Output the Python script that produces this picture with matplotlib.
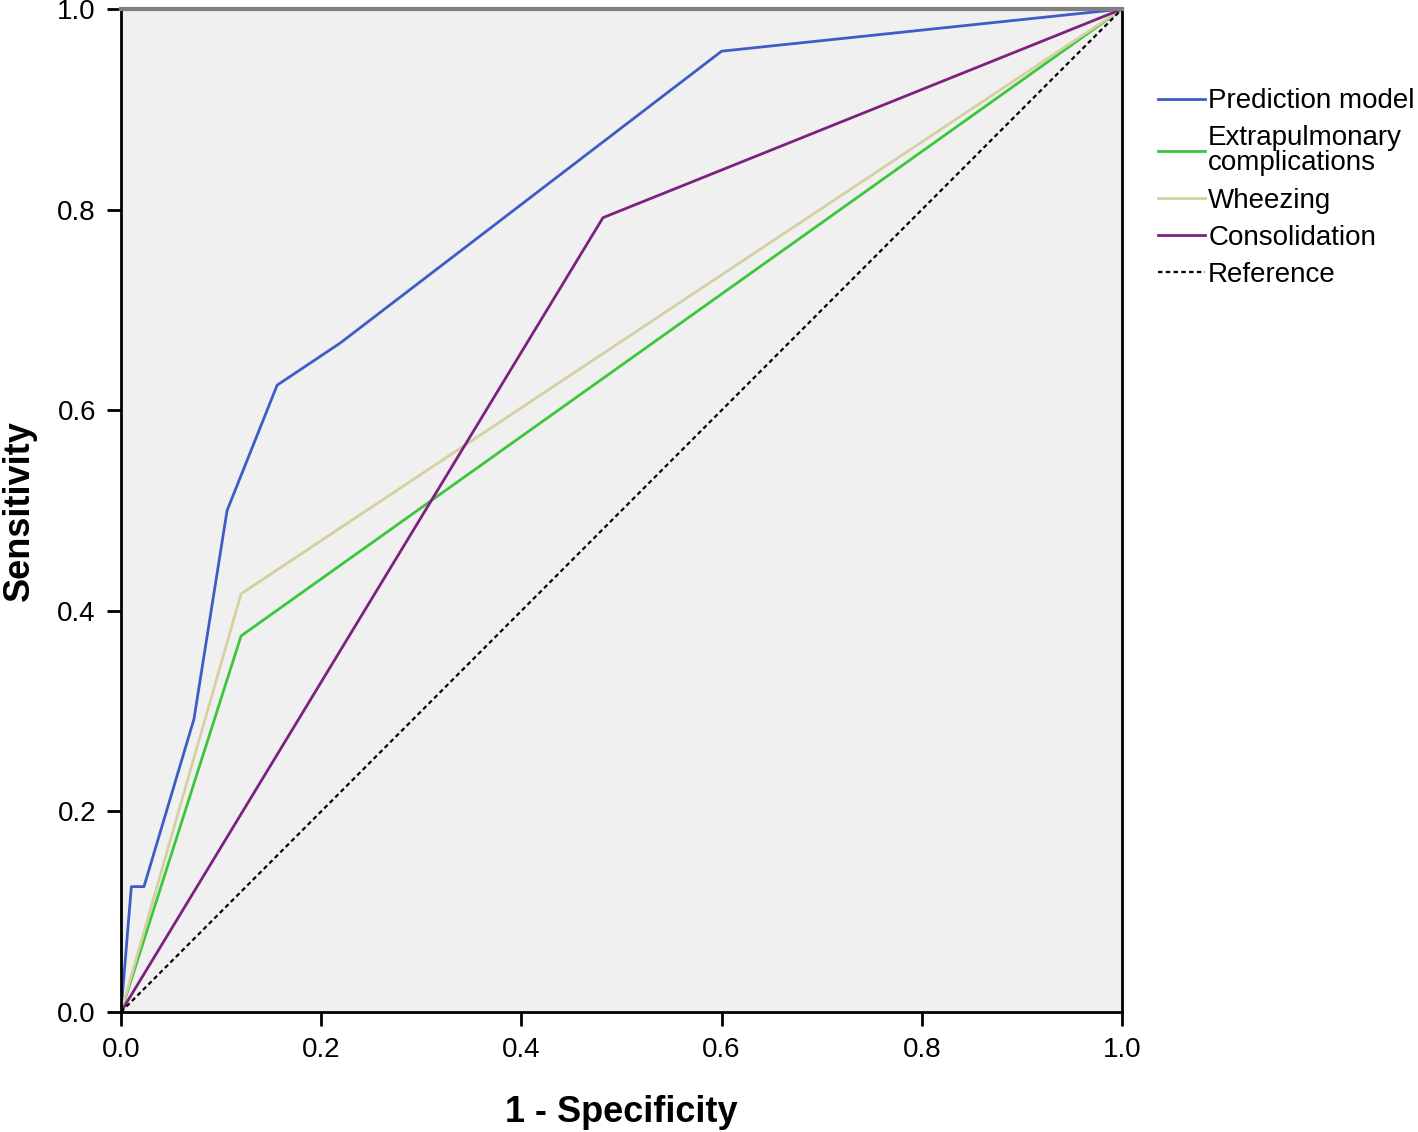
import matplotlib.pyplot as plt

plt.rcParams['font.family'] = ['Liberation Sans', 'DejaVu Sans']

# ROC curve points (1 - specificity, sensitivity)
pred_x = [0.0, 0.0104, 0.023, 0.0729, 0.106, 0.156, 0.219, 0.6, 1.0]
pred_y = [0.0, 0.125, 0.125, 0.292, 0.5, 0.625, 0.667, 0.958, 1.0]
extra_x = [0.0, 0.12, 1.0]
extra_y = [0.0, 0.375, 1.0]
wheeze_x = [0.0, 0.12, 1.0]
wheeze_y = [0.0, 0.417, 1.0]
consol_x = [0.0, 0.4815, 1.0]
consol_y = [0.0, 0.792, 1.0]
ref_x = [0.0, 1.0]
ref_y = [0.0, 1.0]

labels = ['Prediction model', 'Extrapulmonary\ncomplications', 'Wheezing',
          'Consolidation', 'Reference']
ticks = [0.0, 0.2, 0.4, 0.6, 0.8, 1.0]

fig = plt.figure(figsize=(14.18, 11.32), dpi=100)
ax = fig.add_axes([0.0853, 0.106, 0.7060, 0.886])
ax.set_facecolor('#F0F0F0')

ax.plot(pred_x, pred_y, color='#3D5DC4', lw=2.0, label=labels[0])
ax.plot(extra_x, extra_y, color='#3CC63C', lw=2.0, label=labels[1])
ax.plot(wheeze_x, wheeze_y, color='#D6D0A0', lw=2.0, label=labels[2])
ax.plot(consol_x, consol_y, color='#7D2181', lw=2.0, label=labels[3])
ax.plot(ref_x, ref_y, color='black', lw=1.6, linestyle=(0, (2, 1.5)), label=labels[4])

ax.set_xlim(0, 1)
ax.set_ylim(0, 1)
ax.set_xticks(ticks)
ax.set_yticks(ticks)
ax.set_xticklabels(['%.1f' % t for t in ticks])
ax.set_yticklabels(['%.1f' % t for t in ticks])
ax.tick_params(direction='out', length=10, width=2, labelsize=20, pad=8, colors='black')

for s in ['left', 'bottom', 'right']:
    ax.spines[s].set_color('black')
    ax.spines[s].set_linewidth(2)
ax.spines['top'].set_color('#808080')
ax.spines['top'].set_linewidth(3)

ax.set_xlabel('1 - Specificity', fontsize=26, fontweight='bold', labelpad=23)
ax.set_ylabel('Sensitivity', fontsize=26, fontweight='bold', labelpad=15)

leg = ax.legend(loc='upper left', bbox_to_anchor=(1.025, 0.932), frameon=False,
                fontsize=20, handlelength=1.7, handletextpad=0.1,
                labelspacing=0.4, borderaxespad=0)
for t in leg.get_texts():
    t.set_linespacing(0.95)

fig.savefig('out.png', dpi=100, facecolor='white')
